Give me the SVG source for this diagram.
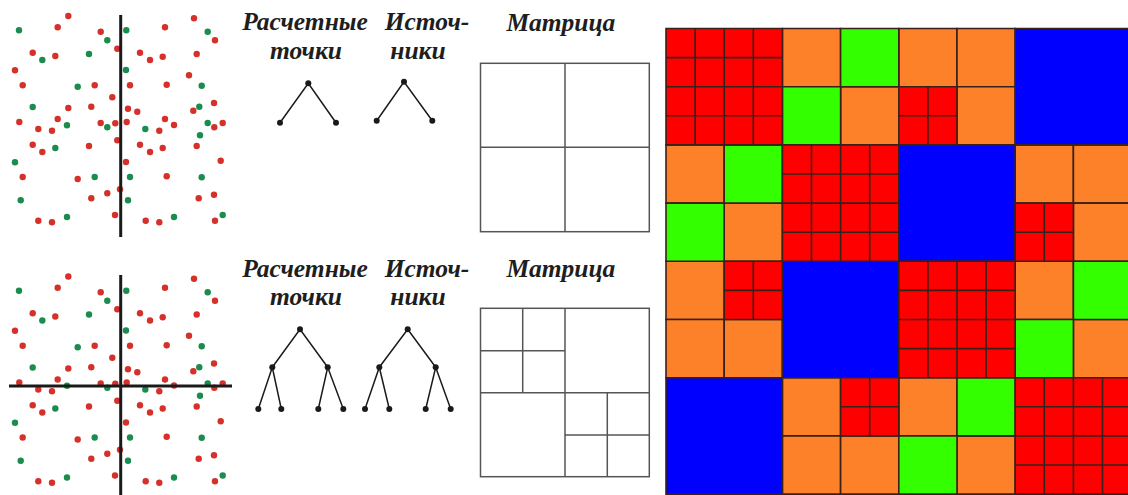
<svg xmlns="http://www.w3.org/2000/svg" xmlns:xlink="http://www.w3.org/1999/xlink" width="1128" height="495" viewBox="0 0 1128 495">
<style>
.t{font-family:"Liberation Serif","Times New Roman",serif;font-weight:bold;font-style:italic;font-size:25.5px;fill:#1e1e1e;text-anchor:middle}
.r{fill:#d5302a}
.g{fill:#1a8c4e}
.ax{stroke:#1a1a1a;stroke-width:3;fill:none}
.edge{stroke:#1a1a1a;stroke-width:1.5;fill:none}
.nd{fill:#1a1a1a}
.mx{stroke:#555;stroke-width:1.5;fill:#fff}
.mxl{stroke:#555;stroke-width:1.5;fill:none}
#big-matrix rect,.c{stroke:#3a2018;stroke-width:1.6px;vector-effect:non-scaling-stroke}
.cr{fill:#ff0000}.co{fill:#fd8129}.cg{fill:#33ff00}.cb{fill:#0000ff}
</style>
<defs>
<g id="dots">
<g class="r">
<circle cx="68.3" cy="16" r="3.2"/><circle cx="57.7" cy="27.3" r="3.2"/><circle cx="100.7" cy="31.7" r="3.2"/><circle cx="165" cy="27.3" r="3.2"/><circle cx="194" cy="18.3" r="3.2"/><circle cx="215" cy="40.3" r="3.2"/><circle cx="117.3" cy="48.7" r="3.2"/><circle cx="140" cy="52.7" r="3.2"/><circle cx="150" cy="60" r="3.2"/><circle cx="162.7" cy="56.7" r="3.2"/><circle cx="196.7" cy="54" r="3.2"/><circle cx="32.7" cy="52.7" r="3.2"/><circle cx="55.3" cy="56" r="3.2"/><circle cx="15" cy="70.3" r="3.2"/><circle cx="22.7" cy="85.3" r="3.2"/><circle cx="94.7" cy="85.3" r="3.2"/><circle cx="130" cy="85.3" r="3.2"/><circle cx="166.7" cy="84.7" r="3.2"/><circle cx="189" cy="75.3" r="3.2"/><circle cx="112.3" cy="97.3" r="3.2"/><circle cx="68.3" cy="108" r="3.2"/><circle cx="91.3" cy="106.7" r="3.2"/><circle cx="128" cy="108.7" r="3.2"/><circle cx="137.3" cy="111.7" r="3.2"/><circle cx="193.3" cy="110.7" r="3.2"/><circle cx="214" cy="103" r="3.2"/><circle cx="19.3" cy="122" r="3.2"/><circle cx="57.7" cy="119" r="3.2"/><circle cx="38.3" cy="129" r="3.2"/><circle cx="52" cy="130.7" r="3.2"/><circle cx="100.7" cy="123" r="3.2"/><circle cx="115.3" cy="123.3" r="3.2"/><circle cx="126.7" cy="122" r="3.2"/><circle cx="165" cy="119" r="3.2"/><circle cx="174" cy="125" r="3.2"/><circle cx="159.3" cy="130.7" r="3.2"/><circle cx="214.3" cy="127.3" r="3.2"/><circle cx="222.7" cy="123" r="3.2"/><circle cx="32.7" cy="144.7" r="3.2"/><circle cx="42.3" cy="152" r="3.2"/><circle cx="89" cy="146" r="3.2"/><circle cx="117.3" cy="140.3" r="3.2"/><circle cx="140" cy="144.7" r="3.2"/><circle cx="150" cy="152" r="3.2"/><circle cx="162.7" cy="148" r="3.2"/><circle cx="196.7" cy="146" r="3.2"/><circle cx="220.7" cy="160.7" r="3.2"/><circle cx="126" cy="162" r="3.2"/><circle cx="22.7" cy="177" r="3.2"/><circle cx="77.7" cy="179" r="3.2"/><circle cx="166.7" cy="176.3" r="3.2"/><circle cx="120" cy="189.3" r="3.2"/><circle cx="107.3" cy="193.3" r="3.2"/><circle cx="91.3" cy="198.3" r="3.2"/><circle cx="198.7" cy="198.3" r="3.2"/><circle cx="214" cy="194.7" r="3.2"/><circle cx="115" cy="215" r="3.2"/><circle cx="38.3" cy="220.7" r="3.2"/><circle cx="52" cy="222.3" r="3.2"/><circle cx="145.7" cy="220.7" r="3.2"/><circle cx="159.3" cy="222.3" r="3.2"/><circle cx="215" cy="220.7" r="3.2"/>
</g>
<g class="g">
<circle cx="19" cy="30.3" r="3.2"/><circle cx="126.3" cy="30.3" r="3.2"/><circle cx="207.7" cy="31.7" r="3.2"/><circle cx="107.3" cy="40.3" r="3.2"/><circle cx="42.3" cy="60" r="3.2"/><circle cx="89" cy="54" r="3.2"/><circle cx="126" cy="70" r="3.2"/><circle cx="77.7" cy="86.7" r="3.2"/><circle cx="201.7" cy="85.7" r="3.2"/><circle cx="32.7" cy="107" r="3.2"/><circle cx="199.3" cy="106.7" r="3.2"/><circle cx="67" cy="125.3" r="3.2"/><circle cx="107.3" cy="127.3" r="3.2"/><circle cx="145.3" cy="129" r="3.2"/><circle cx="207.7" cy="123" r="3.2"/><circle cx="200" cy="135.3" r="3.2"/><circle cx="55.3" cy="148" r="3.2"/><circle cx="15" cy="162.3" r="3.2"/><circle cx="94.7" cy="177" r="3.2"/><circle cx="130" cy="177" r="3.2"/><circle cx="201.7" cy="177.3" r="3.2"/><circle cx="20.7" cy="200.3" r="3.2"/><circle cx="128" cy="200.3" r="3.2"/><circle cx="67" cy="217" r="3.2"/><circle cx="174" cy="217" r="3.2"/><circle cx="222.7" cy="215" r="3.2"/>
</g>
</g>
<g id="r4"><rect class="c cr" x="0" y="0" width="2" height="2"/><path class="c" fill="none" d="M0.5 0V2M1 0V2M1.5 0V2M0 0.5H2M0 1H2M0 1.5H2"/></g>
<g id="r2"><rect class="c cr" x="0" y="0" width="1" height="1"/><path class="c" fill="none" d="M0.5 0V1M0 0.5H1"/></g>
</defs>

<g id="points-top">
<use xlink:href="#dots"/>
<line class="ax" x1="120.7" y1="15" x2="120.7" y2="237"/>
</g>
<g id="points-bottom">
<use xlink:href="#dots" transform="translate(0,260.5)"/>
<line class="ax" x1="120.7" y1="275" x2="120.7" y2="495"/>
<line class="ax" x1="9" y1="386" x2="232" y2="386"/>
</g>

<g id="labels-top">
<text class="t" x="305" y="30">Расчетные</text>
<text class="t" x="306" y="59">точки</text>
<text class="t" x="427" y="30">Источ-</text>
<text class="t" x="418" y="59">ники</text>
<text class="t" x="561" y="31">Матрица</text>
</g>
<g id="labels-bottom">
<text class="t" x="305" y="277">Расчетные</text>
<text class="t" x="306" y="305">точки</text>
<text class="t" x="427" y="277">Источ-</text>
<text class="t" x="418" y="305">ники</text>
<text class="t" x="561" y="277">Матрица</text>
</g>

<g id="connectors">
<path class="edge" d="M280 122.7L308.3 83.3L336 122.7M376.7 120.7L404 81.7L432.3 120.7"/>
<path class="edge" d="M272.3 367.3L300 329.3L327.7 367.3M258.3 409L272.3 367.3L281.3 409M318.3 409L327.7 367.3L343.3 409"/>
<path class="edge" d="M379.3 367.3L407.7 329.3L435.7 367.3M365 409L379.3 367.3L389.3 409M425.7 409L435.7 367.3L450.7 409"/>
</g>
<g id="tree-top-points" class="nd"><circle cx="308.3" cy="83.3" r="3"/><circle cx="280" cy="122.7" r="3"/><circle cx="336" cy="122.7" r="3"/></g>
<g id="tree-top-sources" class="nd"><circle cx="404" cy="81.7" r="3"/><circle cx="376.7" cy="120.7" r="3"/><circle cx="432.3" cy="120.7" r="3"/></g>
<g id="tree-bottom-points" class="nd"><circle cx="300" cy="329.3" r="3"/><circle cx="272.3" cy="367.3" r="3"/><circle cx="327.7" cy="367.3" r="3"/><circle cx="258.3" cy="409" r="3"/><circle cx="281.3" cy="409" r="3"/><circle cx="318.3" cy="409" r="3"/><circle cx="343.3" cy="409" r="3"/></g>
<g id="tree-bottom-sources" class="nd"><circle cx="407.7" cy="329.3" r="3"/><circle cx="379.3" cy="367.3" r="3"/><circle cx="435.7" cy="367.3" r="3"/><circle cx="365" cy="409" r="3"/><circle cx="389.3" cy="409" r="3"/><circle cx="425.7" cy="409" r="3"/><circle cx="450.7" cy="409" r="3"/></g>

<g id="matrix-top">
<rect class="mx" x="480.5" y="63.3" width="168.8" height="168.4"/>
<path class="mxl" d="M565 63.3V231.7M480.5 147.3H649.3"/>
</g>
<g id="matrix-bottom">
<rect class="mx" x="480.5" y="308.3" width="168.8" height="168.4"/>
<path class="mxl" d="M565 308.3V476.7M480.5 392.7H649.3M522.7 308.3V392.7M480.5 350.7H565M607.3 392.7V476.7M565 435H649.3"/>
</g>

<g id="big-matrix" transform="translate(666,28.5) scale(58.2)">
<g class="co">
<rect x="2" y="0" width="1" height="1"/><rect x="4" y="0" width="1" height="1"/><rect x="5" y="0" width="1" height="1"/><rect x="3" y="1" width="1" height="1"/><rect x="5" y="1" width="1" height="1"/><rect x="0" y="2" width="1" height="1"/><rect x="6" y="2" width="1" height="1"/><rect x="7" y="2" width="1" height="1"/><rect x="1" y="3" width="1" height="1"/><rect x="7" y="3" width="1" height="1"/><rect x="0" y="4" width="1" height="1"/><rect x="6" y="4" width="1" height="1"/><rect x="0" y="5" width="1" height="1"/><rect x="1" y="5" width="1" height="1"/><rect x="7" y="5" width="1" height="1"/><rect x="2" y="6" width="1" height="1"/><rect x="4" y="6" width="1" height="1"/><rect x="2" y="7" width="1" height="1"/><rect x="3" y="7" width="1" height="1"/><rect x="5" y="7" width="1" height="1"/>
</g>
<g class="cg">
<rect x="3" y="0" width="1" height="1"/><rect x="2" y="1" width="1" height="1"/><rect x="1" y="2" width="1" height="1"/><rect x="0" y="3" width="1" height="1"/><rect x="7" y="4" width="1" height="1"/><rect x="6" y="5" width="1" height="1"/><rect x="5" y="6" width="1" height="1"/><rect x="4" y="7" width="1" height="1"/>
</g>
<g class="cb">
<rect x="6" y="0" width="2" height="2"/><rect x="4" y="2" width="2" height="2"/><rect x="2" y="4" width="2" height="2"/><rect x="0" y="6" width="2" height="2"/>
</g>
<use xlink:href="#r4" x="0" y="0"/><use xlink:href="#r4" x="2" y="2"/><use xlink:href="#r4" x="4" y="4"/><use xlink:href="#r4" x="6" y="6"/>
<use xlink:href="#r2" x="4" y="1"/><use xlink:href="#r2" x="6" y="3"/><use xlink:href="#r2" x="1" y="4"/><use xlink:href="#r2" x="3" y="6"/>
</g>
</svg>
